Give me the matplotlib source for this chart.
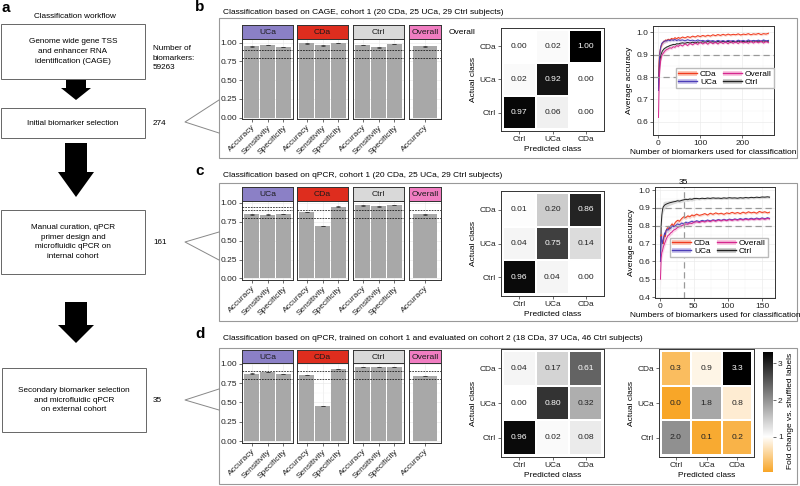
import matplotlib

matplotlib.use("Agg")
import matplotlib.pyplot as plt
import numpy as np
from matplotlib.colors import LinearSegmentedColormap, Normalize
from matplotlib.lines import Line2D
from matplotlib.patches import Patch, Polygon, Rectangle
from matplotlib.transforms import blended_transform_factory

# ---------------- data ----------------
workflow_title = "Classification workflow"
workflow_steps = [
    "Genome wide gene TSS\nand enhancer RNA\nidentification (CAGE)",
    "Initial biomarker selection",
    "Manual curation, qPCR\nprimer design and\nmicrofluidic qPCR on\ninternal cohort",
    "Secondary biomarker selection\nand microfluidic qPCR\non external cohort",
]
biomarker_counts = ["Number of\nbiomarkers:\n59263", "274", "161", "35"]

panel_titles = [
    "Classification based on CAGE, cohort 1 (20 CDa, 25 UCa, 29 Ctrl subjects)",
    "Classification based on qPCR, cohort 1 (20 CDa, 25 UCa, 29 Ctrl subjects)",
    "Classification based on qPCR, trained on cohort 1 and evaluated on cohort 2 "
    "(18 CDa, 37 UCa, 46 Ctrl subjects)",
]

groups = ["UCa", "CDa", "Ctrl", "Overall"]
metrics = ["Accuracy", "Sensitivity", "Specificity"]

cage_bars = [[0.951, 0.968, 0.942], [0.990, 0.964, 0.998], [0.968, 0.938, 0.981], [0.951]]
cage_errs = [[0.004, 0.004, 0.004], [0.003, 0.004, 0.002], [0.004, 0.004, 0.004], [0.003]]
qpcr_bars = [[0.848, 0.845, 0.853], [0.878, 0.693, 0.952], [0.967, 0.955, 0.974], [0.848]]
qpcr_errs = [[0.004, 0.005, 0.003], [0.003, 0.004, 0.003], [0.003, 0.003, 0.002], [0.003]]
ext_bars = [[0.870, 0.892, 0.868], [0.852, 0.456, 0.933], [0.955, 0.953, 0.957], [0.840]]
ext_errs = [[0.003, 0.003, 0.003], [0.003, 0.003, 0.002], [0.002, 0.002, 0.002], [0.002]]

pred_classes = ["Ctrl", "UCa", "CDa"]
actual_classes = ["CDa", "UCa", "Ctrl"]  # top to bottom
conf_cage = [[0.00, 0.02, 1.00], [0.02, 0.92, 0.00], [0.97, 0.06, 0.00]]
conf_qpcr = [[0.01, 0.20, 0.86], [0.04, 0.75, 0.14], [0.96, 0.04, 0.00]]
conf_ext = [[0.04, 0.17, 0.61], [0.00, 0.80, 0.32], [0.96, 0.02, 0.08]]
fold_ext = [[0.3, 0.9, 3.3], [0.0, 1.8, 0.8], [2.0, 0.1, 0.2]]

# accuracy curves, CAGE cohort 1
n_cage = [1, 2, 3, 4, 5, 6, 7, 8, 9, 10, 12, 14, 16, 18, 20, 24, 28, 32, 36, 40, 44, 48,
          52, 58, 64, 70, 76, 82, 88, 94, 100, 106, 112, 118, 124, 130, 136, 142, 148, 154,
          160, 166, 172, 178, 184, 190, 196, 202, 208, 214, 220, 226, 232, 238, 244, 250,
          256, 262]
cda_cage = [0.80, 0.86, 0.89, 0.91, 0.92, 0.93, 0.935, 0.94, 0.945, 0.95,
            0.955, 0.96, 0.958, 0.965, 0.962,
            0.968, 0.965, 0.972, 0.968, 0.975, 0.97, 0.976,
            0.972, 0.978, 0.974, 0.98, 0.976, 0.982, 0.978, 0.984, 0.98, 0.985,
            0.981, 0.986, 0.982, 0.988, 0.984, 0.989, 0.985, 0.99, 0.986, 0.991,
            0.987, 0.99, 0.988, 0.992, 0.987, 0.991, 0.989, 0.993, 0.988, 0.992,
            0.99, 0.994, 0.989, 0.993, 0.991, 0.995]
uca_cage = [0.74, 0.82, 0.87, 0.90, 0.92, 0.93, 0.94, 0.945, 0.95, 0.952,
            0.955, 0.958, 0.96, 0.962, 0.96,
            0.965, 0.962, 0.966, 0.963, 0.967, 0.962, 0.966,
            0.963, 0.965, 0.961, 0.966, 0.962, 0.964, 0.96, 0.965, 0.961, 0.963,
            0.959, 0.964, 0.96, 0.962, 0.958, 0.963, 0.959, 0.962, 0.958, 0.963,
            0.96, 0.962, 0.958, 0.964, 0.96, 0.963, 0.959, 0.965, 0.96, 0.963,
            0.961, 0.964, 0.96, 0.965, 0.961, 0.963]
ctrl_cage = [0.74, 0.80, 0.84, 0.86, 0.88, 0.89, 0.90, 0.905, 0.91, 0.915,
             0.92, 0.925, 0.928, 0.93, 0.933,
             0.936, 0.94, 0.942, 0.945, 0.944, 0.948, 0.947,
             0.95, 0.952, 0.95, 0.954, 0.951, 0.955, 0.952, 0.956, 0.953, 0.957,
             0.954, 0.958, 0.955, 0.957, 0.954, 0.958, 0.955, 0.959, 0.956, 0.958,
             0.955, 0.959, 0.956, 0.96, 0.957, 0.959, 0.956, 0.96, 0.957, 0.961,
             0.958, 0.96, 0.957, 0.961, 0.958, 0.96]
overall_cage = [0.62, 0.72, 0.79, 0.83, 0.85, 0.87, 0.88, 0.89, 0.895, 0.90,
                0.905, 0.91, 0.915, 0.918, 0.922,
                0.925, 0.93, 0.928, 0.935, 0.932, 0.94, 0.936,
                0.944, 0.938, 0.948, 0.94, 0.95, 0.943, 0.952, 0.945, 0.955, 0.947,
                0.954, 0.946, 0.956, 0.948, 0.955, 0.947, 0.957, 0.949, 0.956, 0.948,
                0.958, 0.95, 0.957, 0.949, 0.958, 0.951, 0.957, 0.95, 0.959, 0.951,
                0.958, 0.952, 0.96, 0.951, 0.958, 0.953]
se_cage = [0.03, 0.025, 0.02, 0.018, 0.015, 0.013, 0.012, 0.011, 0.01, 0.01,
           0.009, 0.008, 0.008, 0.007, 0.007] + [0.006] * 7 + [0.005] * 36

# accuracy curves, qPCR cohort 1
n_qpcr = [1, 2, 3, 4, 5, 6, 7, 8, 9, 10, 12, 14, 16, 18, 20, 23, 26, 29, 32, 35, 38, 41,
          44, 47, 50, 54, 58, 62, 66, 70, 74, 78, 82, 86, 90, 94, 98, 102, 106, 110, 114,
          118, 122, 126, 130, 134, 138, 142, 146, 150, 154, 158, 161]
cda_qpcr = [0.74, 0.75, 0.72, 0.71, 0.70, 0.73, 0.75, 0.74, 0.77, 0.78,
            0.79, 0.78, 0.80, 0.81, 0.80,
            0.82, 0.83, 0.825, 0.84, 0.85, 0.845, 0.855, 0.85, 0.86, 0.855,
            0.865, 0.858, 0.862, 0.868, 0.86, 0.87, 0.864, 0.872, 0.866, 0.87,
            0.864, 0.872, 0.868, 0.875, 0.869, 0.874, 0.868, 0.876, 0.87, 0.878,
            0.872, 0.876, 0.87, 0.88, 0.874, 0.878, 0.872, 0.876]
uca_qpcr = [0.60, 0.74, 0.72, 0.70, 0.72, 0.74, 0.76, 0.75, 0.77, 0.78,
            0.775, 0.79, 0.785, 0.80, 0.795,
            0.80, 0.81, 0.805, 0.815, 0.81, 0.82, 0.815, 0.82, 0.825, 0.82,
            0.828, 0.823, 0.83, 0.826, 0.832, 0.827, 0.833, 0.829, 0.835, 0.83,
            0.836, 0.831, 0.837, 0.833, 0.838, 0.834, 0.84, 0.835, 0.841, 0.836,
            0.842, 0.837, 0.843, 0.838, 0.844, 0.839, 0.845, 0.841]
ctrl_qpcr = [0.60, 0.80, 0.86, 0.89, 0.905, 0.91, 0.915, 0.918, 0.92, 0.922,
             0.925, 0.928, 0.93, 0.932, 0.934,
             0.936, 0.94, 0.938, 0.942, 0.945, 0.948, 0.946, 0.95, 0.948, 0.952,
             0.953, 0.951, 0.954, 0.952, 0.955, 0.953, 0.956, 0.954, 0.955, 0.953,
             0.956, 0.954, 0.957, 0.955, 0.956, 0.954, 0.957, 0.955, 0.958, 0.956,
             0.959, 0.957, 0.96, 0.958, 0.961, 0.96, 0.962, 0.96]
overall_qpcr = [0.50, 0.62, 0.65, 0.66, 0.68, 0.69, 0.70, 0.71, 0.72, 0.73,
                0.745, 0.75, 0.76, 0.765, 0.775,
                0.78, 0.79, 0.795, 0.80, 0.805, 0.81, 0.808, 0.815, 0.812, 0.82,
                0.822, 0.818, 0.825, 0.821, 0.828, 0.823, 0.83, 0.825, 0.832, 0.827,
                0.833, 0.828, 0.834, 0.83, 0.835, 0.831, 0.836, 0.832, 0.837, 0.833,
                0.838, 0.834, 0.839, 0.835, 0.84, 0.836, 0.841, 0.838]
se_qpcr = [0.05, 0.04, 0.035, 0.03, 0.028, 0.025, 0.022, 0.02, 0.018, 0.016,
           0.015, 0.014, 0.013, 0.012, 0.011] + [0.01] * 10 + [0.007] * 28
chosen_n = 35

# ---------------- styling ----------------
W, H = 800, 486
FS = 6.0
plt.rcParams["font.family"] = ["Liberation Sans", "DejaVu Sans"]
plt.rcParams["font.size"] = FS
plt.rcParams["axes.linewidth"] = 0.7
plt.rcParams["axes.edgecolor"] = "#333333"
plt.rcParams["xtick.color"] = "#333333"
plt.rcParams["ytick.color"] = "#333333"
plt.rcParams["xtick.labelcolor"] = "#222222"
plt.rcParams["ytick.labelcolor"] = "#222222"
plt.rcParams["xtick.labelsize"] = FS
plt.rcParams["ytick.labelsize"] = FS
plt.rcParams["xtick.major.size"] = 2
plt.rcParams["ytick.major.size"] = 2
plt.rcParams["xtick.major.width"] = 0.5
plt.rcParams["ytick.major.width"] = 0.5
plt.rcParams["xtick.major.pad"] = 1.5
plt.rcParams["ytick.major.pad"] = 1.5
plt.rcParams["xtick.minor.size"] = 0
plt.rcParams["ytick.minor.size"] = 0

strip_colors = ["#8B80C6", "#DE2D1E", "#D9D9D9", "#F07DC1"]
bar_grey = "#A8A8A8"
grid_col = "#EBEBEB"
curve_colors = {"CDa": "#F03B20", "UCa": "#4B3DB8", "Overall": "#D6278F", "Ctrl": "#222222"}
ribbon_colors = {"CDa": "#F7A58F", "UCa": "#A99FE0", "Overall": "#F4A6CF", "Ctrl": "#B0B0B0"}


def rect(x0, y0, x1, y1):
    return [x0 / W, 1 - y1 / H, (x1 - x0) / W, (y1 - y0) / H]


fig = plt.figure(figsize=(W / 100, H / 100), dpi=100)
ov = fig.add_axes([0, 0, 1, 1])
ov.set_xlim(0, W)
ov.set_ylim(H, 0)
ov.axis("off")

# ---------------- panel a ----------------
ov.text(1, 8, "a", fontsize=11, fontweight="bold", ha="left", va="center")
ov.text(75, 16, workflow_title, ha="center", va="center", fontsize=5.9)
step_boxes = [(1, 24, 145, 79), (1, 108, 145, 138), (1, 210, 145, 274), (2, 368, 146, 432)]
count_y = [58, 123, 242, 400]
for (x0, y0, x1, y1), step, count, cy in zip(step_boxes, workflow_steps, biomarker_counts, count_y):
    ov.add_patch(Rectangle((x0, y0), x1 - x0, y1 - y0, fill=False, ec="#666666", lw=0.7))
    ov.text((x0 + x1) / 2, (y0 + y1) / 2, step, ha="center", va="center", fontsize=5.9,
            linespacing=1.55)
    ov.text(153, cy, count, ha="left", va="center", fontsize=5.9, linespacing=1.55)

cx = 76
for y0, ym, y1, sw, hw in [(80, 88, 100, 10, 15), (143, 172, 197, 11, 18), (302, 325, 343, 11, 18)]:
    ov.add_patch(Polygon([(cx - sw, y0), (cx + sw, y0), (cx + sw, ym), (cx + hw, ym), (cx, y1),
                          (cx - hw, ym), (cx - sw, ym)], closed=True, fc="black", ec="none"))

for (ux, uy), (vx, vy), (lx, ly) in [((219, 100), (185, 122), (219, 133)),
                                     ((219, 232), (185, 242), (219, 260)),
                                     ((219, 389), (185, 400), (219, 410))]:
    ov.plot([ux, vx, lx], [uy, vy, ly], color="#888888", lw=0.7)

for (x0, y0, x1, y1), letter, (lx, ly), title, ty in zip(
        [(219, 18, 797, 158), (219, 183, 797, 321), (219, 348, 797, 484)],
        ["b", "c", "d"], [(195, 7), (195, 171), (195, 334)], panel_titles, [12, 175, 338]):
    ov.add_patch(Rectangle((x0, y0), x1 - x0, y1 - y0, fill=False, ec="#999999", lw=0.8))
    ov.text(lx, ly, letter, fontsize=11, fontweight="bold", ha="left", va="center")
    ov.text(223, ty, title, ha="left", va="center", fontsize=FS)
ov.text(449, 32, "Overall", ha="left", va="center", fontsize=FS)

# ---------------- faceted bar charts ----------------
facet_x = [(242, 293), (297, 348), (353, 404), (409, 441)]


def draw_bars(strip_top, strip_bottom, panel_bottom, values, errors, extra_lines):
    top = 1.05 * max(v + e for vs, es in zip(values, errors) for v, e in zip(vs, es))
    for k, (x0, x1) in enumerate(facet_x):
        ax = fig.add_axes(rect(x0, strip_bottom, x1, panel_bottom))
        n = len(values[k])
        pos = np.arange(1, n + 1)
        ax.bar(pos, values[k], width=0.9, color=bar_grey, zorder=2)
        ax.errorbar(pos, values[k], yerr=errors[k], fmt="none", ecolor="#333333",
                    elinewidth=0.5, capsize=1.4, capthick=0.5, zorder=3)
        for yv in [0.9, 0.8] + extra_lines[k]:
            ax.axhline(yv, color="black", lw=0.5, ls=(0, (2.5, 1.5)), zorder=4)
        ax.set_xlim(0.4, n + 0.6)
        ax.set_ylim(-0.02, top)
        ax.set_xticks(pos)
        ax.set_xticklabels(metrics[:n], rotation=45, ha="right", va="top",
                           rotation_mode="anchor")
        ax.set_yticks([0, 0.25, 0.5, 0.75, 1.0])
        ax.set_yticks([0.125, 0.375, 0.625, 0.875], minor=True)
        ax.grid(True, which="major", color=grid_col, lw=0.5)
        ax.grid(True, which="minor", axis="y", color="#F3F3F3", lw=0.35)
        ax.set_axisbelow(True)
        if k == 0:
            ax.set_yticklabels(["0.00", "0.25", "0.50", "0.75", "1.00"])
        else:
            ax.tick_params(axis="y", length=0, labelleft=False)
        strip = fig.add_axes(rect(x0, strip_top, x1, strip_bottom))
        strip.set_facecolor(strip_colors[k])
        strip.set_xticks([])
        strip.set_yticks([])
        strip.text(0.5, 0.45, groups[k], ha="center", va="center", fontsize=6.1,
                   color="#1A1A1A", transform=strip.transAxes)


draw_bars(25, 39, 119, cage_bars, cage_errs, [[], [], [], []])
draw_bars(187, 201, 280, qpcr_bars, qpcr_errs, [[0.947], [], [], []])
draw_bars(350, 363, 443, ext_bars, ext_errs, [[], [], [], []])

# ---------------- confusion matrices ----------------
grey_cmap = LinearSegmentedColormap.from_list("wb", ["#FFFFFF", "#000000"])
fc_limits = (0.05, 3.3)
fc_mid = (1 - fc_limits[0]) / (fc_limits[1] - fc_limits[0])
fc_cmap = LinearSegmentedColormap.from_list(
    "fc", [(0, "#F8A628"), (fc_mid, "#FFFFFF"), (1, "#000000")])


def draw_matrix(box, mat, cmap, norm, fmt, white_above):
    ax = fig.add_axes(rect(*box))
    m = np.array(mat)
    ax.pcolormesh(np.arange(4), np.arange(4), m, cmap=cmap, norm=norm,
                  edgecolors="white", linewidth=0.3)
    ax.set_xlim(-0.05, 3.05)
    ax.set_ylim(3.05, -0.05)
    for i in range(3):
        for j in range(3):
            col = "white" if norm(m[i, j]) > white_above else "#222222"
            ax.text(j + 0.5, i + 0.5, fmt.format(m[i, j]), ha="center", va="center",
                    fontsize=6.1, color=col)
    ax.set_xticks(np.arange(3) + 0.5)
    ax.set_xticklabels(pred_classes)
    ax.set_yticks(np.arange(3) + 0.5)
    ax.set_yticklabels(actual_classes)
    ax.set_xlabel("Predicted class", fontsize=FS, labelpad=2)
    ax.set_ylabel("Actual class", fontsize=FS, labelpad=2)
    return ax


unit = Normalize(0, 1)
draw_matrix((501, 28, 604, 131), conf_cage, grey_cmap, unit, "{:.2f}", 0.5)
draw_matrix((501, 191, 604, 296), conf_qpcr, grey_cmap, unit, "{:.2f}", 0.5)
draw_matrix((501, 349, 604, 457), conf_ext, grey_cmap, unit, "{:.2f}", 0.5)
fc_norm = Normalize(*fc_limits)
draw_matrix((659, 349, 754, 457), fold_ext, fc_cmap, fc_norm, "{:.1f}", 0.75)

cax = fig.add_axes(rect(763, 352, 773, 472))
grad = np.linspace(fc_limits[0], fc_limits[1], 256).reshape(-1, 1)
cax.imshow(grad, aspect="auto", cmap=fc_cmap, norm=fc_norm, origin="lower",
           extent=(0, 1, fc_limits[0], fc_limits[1]))
cax.set_xticks([])
cax.yaxis.tick_right()
cax.set_yticks([1, 2, 3])
for s in cax.spines.values():
    s.set_visible(False)
ov.text(791, 411, "Fold change vs. shuffled labels", rotation=90, ha="center", va="center",
        fontsize=FS)

# ---------------- accuracy curves ----------------


def draw_curves(box, n, series, se, ylim, xlim, yticks, xticks, xminor, xlabel, anchor):
    ax = fig.add_axes(rect(*box))
    se = np.array(se)
    for name in ["Ctrl", "CDa", "UCa", "Overall"]:
        y = np.array(series[name])
        ax.fill_between(n, y - se, y + se, color=ribbon_colors[name], alpha=0.45, lw=0)
    for name in ["Ctrl", "CDa", "UCa", "Overall"]:
        ax.plot(n, series[name], color=curve_colors[name], lw=0.7)
    for yv in [0.9, 0.8]:
        ax.axhline(yv, color="#999999", lw=0.9, ls=(0, (5, 3)))
    ax.set_xlim(*xlim)
    ax.set_ylim(*ylim)
    ax.set_yticks(yticks)
    ax.set_yticklabels([f"{t:.1f}" for t in yticks])
    ax.set_yticks([t + 0.05 for t in yticks[:-1]], minor=True)
    ax.set_xticks(xticks)
    ax.set_xticks(xminor, minor=True)
    ax.grid(True, which="major", color=grid_col, lw=0.5)
    ax.grid(True, which="minor", color="#F3F3F3", lw=0.35)
    ax.set_axisbelow(True)
    ax.set_xlabel(xlabel, fontsize=FS, labelpad=1.5)
    ax.set_ylabel("Average accuracy", fontsize=FS, labelpad=2)
    handles = [(Patch(fc=ribbon_colors[k], ec="none", alpha=0.6),
                Line2D([], [], color=curve_colors[k], lw=1.0))
               for k in ["CDa", "UCa", "Overall", "Ctrl"]]
    ax.legend(handles, ["CDa", "UCa", "Overall", "Ctrl"], ncol=2, loc="center right",
              bbox_to_anchor=anchor, frameon=True, fancybox=False, edgecolor="#BBBBBB",
              framealpha=1, fontsize=FS, handlelength=2.2, handleheight=0.6,
              columnspacing=0.8, labelspacing=0.05, borderpad=0.25, handletextpad=0.4,
              borderaxespad=0)
    return ax


draw_curves((653, 26, 774, 135), n_cage,
            {"CDa": cda_cage, "UCa": uca_cage, "Overall": overall_cage, "Ctrl": ctrl_cage},
            se_cage, (0.542, 1.027), (-12, 275), [0.6, 0.7, 0.8, 0.9, 1.0], [0, 100, 200],
            [50, 150, 250], "Number of biomarkers used for classification", (1.0, 0.52))

axc = draw_curves((655, 187, 775, 298), n_qpcr,
                  {"CDa": cda_qpcr, "UCa": uca_qpcr, "Overall": overall_qpcr, "Ctrl": ctrl_qpcr},
                  se_qpcr, (0.395, 1.017), (-7, 169), [0.4, 0.5, 0.6, 0.7, 0.8, 0.9, 1.0],
                  [0, 50, 100, 150], [25, 75, 125],
                  "Numbers of biomarkers used for classification", (0.942, 0.455))
axc.axvline(chosen_n, color="#999999", lw=0.9, ls=(0, (5, 3)))
axc.text(chosen_n, 1.01, str(chosen_n),
         transform=blended_transform_factory(axc.transData, axc.transAxes),
         ha="center", va="bottom", fontsize=FS)

fig.savefig("out.png", dpi=100)
